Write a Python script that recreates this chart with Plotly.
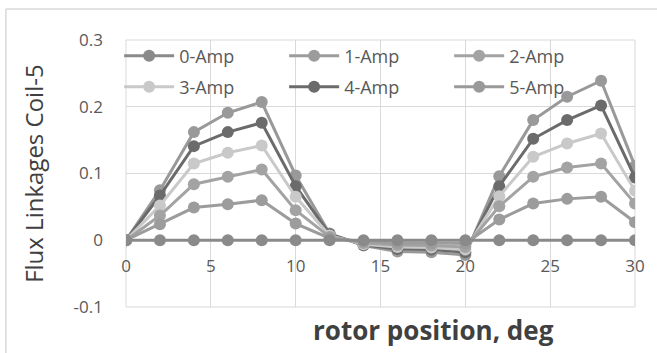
import plotly.graph_objects as go

# rotor position (deg)
position = [0, 2, 4, 6, 8, 10, 12, 14, 16, 18, 20, 22, 24, 26, 28, 30]

# flux linkage of coil 5 for each phase current
amp0 = [0, 0, 0, 0, 0, 0, 0, 0, 0, 0, 0, 0, 0, 0, 0, 0]
amp1 = [0, 0.024, 0.049, 0.054, 0.060, 0.025, 0.003, -0.002, -0.004, -0.004, -0.005, 0.031, 0.055, 0.062, 0.065, 0.027]
amp2 = [0, 0.037, 0.084, 0.095, 0.106, 0.045, 0.005, -0.004, -0.007, -0.008, -0.010, 0.051, 0.095, 0.109, 0.115, 0.055]
amp3 = [0, 0.052, 0.115, 0.131, 0.142, 0.065, 0.007, -0.006, -0.010, -0.011, -0.014, 0.066, 0.125, 0.145, 0.160, 0.074]
amp4 = [0, 0.067, 0.141, 0.162, 0.176, 0.081, 0.009, -0.007, -0.013, -0.014, -0.018, 0.081, 0.152, 0.180, 0.202, 0.094]
amp5 = [0, 0.075, 0.162, 0.191, 0.207, 0.097, 0.010, -0.008, -0.017, -0.018, -0.022, 0.096, 0.180, 0.215, 0.239, 0.111]

names = ["0-Amp", "1-Amp", "2-Amp", "3-Amp", "4-Amp", "5-Amp"]
series = [amp0, amp1, amp2, amp3, amp4, amp5]
colors = ["#8a8a8a", "#9c9c9c", "#a3a3a3", "#c9c9c9", "#6b6b6b", "#999999"]
legends = ["legend", "legend", "legend", "legend2", "legend2", "legend2"]

x_ticks = [0, 5, 10, 15, 20, 25, 30]
y_ticks = [-0.1, 0, 0.1, 0.2, 0.3]
y_tick_text = ["-0.1", "0", "0.1", "0.2", "0.3"]

FONT = "Open Sans"
GRID = "#d9d9d9"

fig = go.Figure()
# draw the largest current first so the zero series stays on top
for name, ys, col, lg in reversed(list(zip(names, series, colors, legends))):
    fig.add_trace(go.Scatter(
        x=position, y=ys, name=name, mode="lines+markers",
        line=dict(color=col, width=3),
        marker=dict(color=col, size=12),
        legend=lg,
    ))

legend_common = dict(
    orientation="h", xanchor="right", yanchor="middle",
    bgcolor="rgba(0,0,0,0)", traceorder="reversed",
    entrywidth=100, entrywidthmode="pixels", itemwidth=50,
    font=dict(family=FONT, size=18, color="#595959"),
)

fig.update_layout(
    width=657, height=353,
    margin=dict(l=126, r=22, t=40, b=46),
    paper_bgcolor="white", plot_bgcolor="white",
    showlegend=True,
    legend=dict(x=0.959, y=0.940, **legend_common),
    legend2=dict(x=0.959, y=0.824, **legend_common),
    xaxis=dict(
        range=[0, 30], tickvals=x_ticks, showgrid=True, gridcolor=GRID, gridwidth=1,
        zeroline=False, showline=False, anchor="free", position=0.25,
        ticks="", ticklabelstandoff=14,
        tickfont=dict(family=FONT, size=17, color="#595959"),
    ),
    yaxis=dict(
        range=[-0.1, 0.3], tickvals=y_ticks, ticktext=y_tick_text,
        showgrid=True, gridcolor=GRID, gridwidth=1, zeroline=True, zerolinecolor=GRID,
        showline=False, ticks="", ticklabelstandoff=22,
        tickfont=dict(family=FONT, size=17, color="#595959"),
    ),
    shapes=[
        # plot-area outline
        dict(type="rect", xref="paper", yref="paper", x0=0, x1=1, y0=0, y1=1,
             line=dict(color=GRID, width=1), layer="below"),
        # chart frame
        dict(type="line", xref="paper", yref="paper", x0=-0.236, x1=-0.236, y0=-0.2, y1=1.116,
             line=dict(color=GRID, width=1.5)),
        dict(type="line", xref="paper", yref="paper", x0=-0.236, x1=1.05, y0=1.116, y1=1.116,
             line=dict(color=GRID, width=1.5)),
    ],
    annotations=[
        dict(text="rotor position, deg", xref="paper", yref="paper", x=0.605, y=-0.086,
             xanchor="center", yanchor="middle", showarrow=False,
             font=dict(family=FONT, size=26, color="#404040", weight="bold")),
        dict(text="Flux Linkages Coil-5", xref="paper", yref="paper", x=-0.182, y=0.5,
             xanchor="center", yanchor="middle", showarrow=False, textangle=-90,
             font=dict(family=FONT, size=24, color="#404040")),
    ],
)

fig.write_html("out.html")
